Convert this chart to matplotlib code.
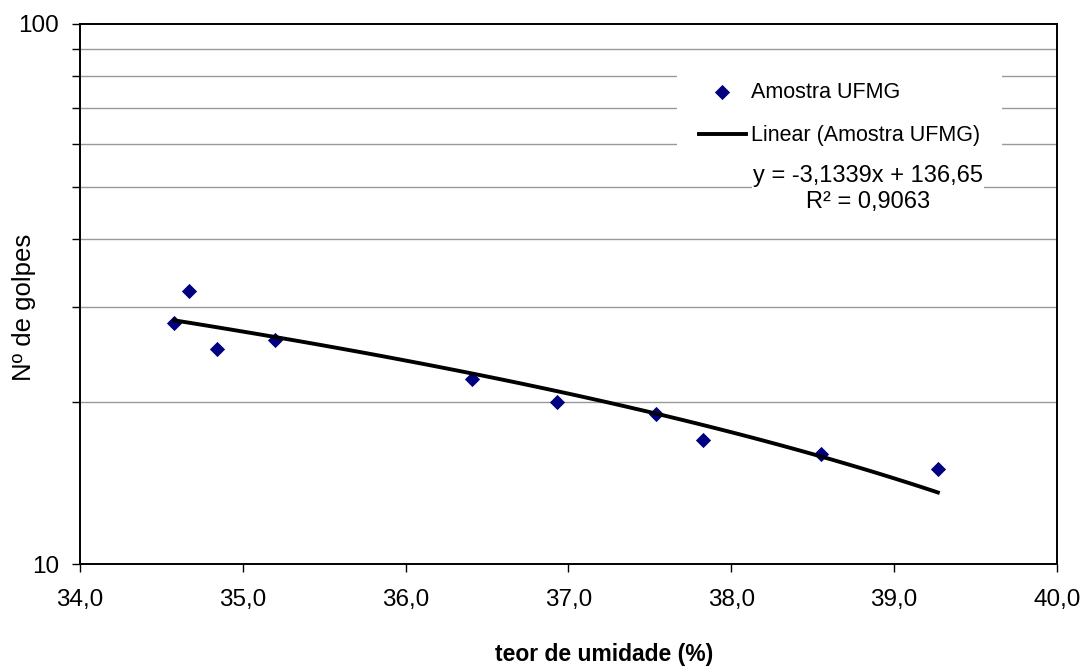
import matplotlib.pyplot as plt
import numpy as np
from matplotlib.ticker import FixedLocator, NullFormatter, FuncFormatter

plt.rcParams['font.family'] = ['Liberation Sans', 'DejaVu Sans']

# dados da amostra UFMG
umidade = [34.58, 34.67, 34.84, 35.20, 36.41, 36.93, 37.54, 37.83, 38.55, 39.27]
golpes = [28, 32, 25, 26, 22, 20, 19, 17, 16, 15]

# linha de tendencia do Excel
slope = -3.1339
intercept = 136.65
r2 = 0.9063

W, H = 1083, 668
fig = plt.figure(figsize=(W / 100, H / 100), dpi=100)
ax = fig.add_axes([80 / W, (H - 564.3) / H, (1056.7 - 80) / W, (564.3 - 24) / H])

ax.set_yscale('log')
ax.set_xlim(34, 40)
ax.set_ylim(10, 100)

xs = np.linspace(min(umidade), max(umidade), 100)
ax.scatter(umidade, golpes, marker='D', s=60, color='#000080', zorder=3,
           label='Amostra UFMG', linewidths=0)
ax.plot(xs, slope * xs + intercept, color='black', lw=2.8, zorder=4,
        label='Linear (Amostra UFMG)')

ax.set_xticks(np.arange(34, 40.1, 1))
ax.xaxis.set_major_formatter(FuncFormatter(lambda v, p: f'{v:.1f}'.replace('.', ',')))
ax.yaxis.set_major_locator(FixedLocator([10, 100]))
ax.yaxis.set_major_formatter(FuncFormatter(lambda v, p: f'{v:.0f}'))
ax.yaxis.set_minor_locator(FixedLocator([20, 30, 40, 50, 60, 70, 80, 90]))
ax.yaxis.set_minor_formatter(NullFormatter())
ax.grid(True, which='minor', axis='y', color='#999999', lw=1.0)
ax.tick_params(axis='both', which='both', direction='out', length=6, width=1,
               labelsize=17.5, color='black')
ax.tick_params(axis='x', pad=12)
ax.tick_params(axis='y', pad=9)
for s in ax.spines.values():
    s.set_linewidth(1.4)

fig.text(604 / W, 1 - 655 / H, 'teor de umidade (%)', fontsize=16.5, fontweight='bold',
         ha='center', va='center')
fig.text(24 / W, 1 - 307 / H, 'Nº de golpes', fontsize=18.5, rotation=90,
         ha='center', va='center')

leg = ax.legend(loc='upper left', bbox_to_anchor=(677 / W, 1 - 60 / H),
                bbox_transform=fig.transFigure, fontsize=15.5, frameon=True,
                framealpha=1, edgecolor='none', facecolor='white', fancybox=False,
                borderpad=1.0, labelspacing=1.05, handlelength=2.2, handletextpad=0.25,
                borderaxespad=0, scatterpoints=1)
leg.set_zorder(5)

eq = f'y = {slope:.4f}x + {intercept:.2f}'.replace('.', ',') + '\n' + f'R² = {r2:.4f}'.replace('.', ',')
ax.text(868 / W, 1 - 189 / H, eq, transform=fig.transFigure, fontsize=17,
        ha='center', va='center', linespacing=1.25, zorder=6,
        bbox=dict(facecolor='white', edgecolor='none', pad=1))

fig.savefig('out.png', dpi=100)
